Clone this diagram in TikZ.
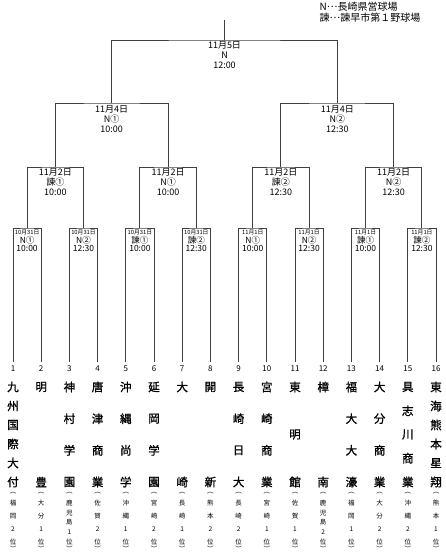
\documentclass[tikz,border=0pt]{standalone}
\usepackage{fontspec}
\usetikzlibrary{calc}
\setmainfont{Noto Sans CJK JP}
\newfontfamily\jpbold[FakeBold=1.2]{Noto Sans CJK JP}
\newcommand\middots{\raisebox{0.3em}{…}}
\newcommand\teamcol[5]{% #1 index, #2 n names, #3 names, #4 m pref, #5 pref
  \pgfmathsetmacro\tx{13+(#1-1)*28.2}
  \node[num] (num#1) at (\tx,369) {#1};
  \foreach \c [count=\k] in {#3} {
    \pgfmathsetmacro\yy{387+95*(\k-1)/(#2-1)}
    \node[tname] (t#1-\k) at (\tx,\yy) {\c};
  }
  \node[pref] (po#1) at (\tx,493) {︵};
  \foreach \c [count=\k] in {#5} {
    \pgfmathsetmacro\yy{503+39*(\k-1)/(#4-1)}
    \node[pref] (p#1-\k) at (\tx,\yy) {\c};
  }
  \node[pref] (pc#1) at (\tx,549) {︶};
}
\begin{document}
\begin{tikzpicture}[x=1pt,y=-1pt,
  line/.style={draw=black!75, line width=0.9pt},
  lab/.style={font=\fontsize{9}{10}\selectfont, align=center, inner sep=0pt, anchor=north},
  small/.style={font=\fontsize{5.8}{6}\selectfont, inner sep=0pt},
  mid/.style={font=\fontsize{8.5}{8.5}\selectfont, inner sep=0pt},
  num/.style={font=\fontsize{8}{9}\selectfont, inner sep=0pt},
  tname/.style={font=\fontsize{11.5}{12}\selectfont\jpbold, inner sep=0pt},
  pref/.style={font=\fontsize{6.5}{7}\selectfont, inner sep=0pt},
  legend/.style={font=\fontsize{10}{10}\selectfont, inner sep=0pt, anchor=west}]
\useasboundingbox (0,0) rectangle (446,559);
% coordinates of the bracket
\foreach \i in {1,...,16} \coordinate (L\i) at ({13+(\i-1)*28.2},362);
\foreach \j in {1,...,8} \coordinate (D\j) at ({13+(2*\j-1.5)*28.2},228);
\foreach \k in {1,...,4} \coordinate (C\k) at ({13+(4*\k-2.5)*28.2},167);
\foreach \m in {1,2} \coordinate (B\m) at ({13+(8*\m-4.5)*28.2},103);
\coordinate (A) at (224.5,40);
\coordinate (R) at (224.5,20);
% bracket lines
\foreach \j in {1,...,8} {
  \pgfmathtruncatemacro\a{2*\j-1}\pgfmathtruncatemacro\b{2*\j}
  \draw[line] (L\a) |- (D\j) -| (L\b);
}
\foreach \k in {1,...,4} {
  \pgfmathtruncatemacro\a{2*\k-1}\pgfmathtruncatemacro\b{2*\k}
  \draw[line] (D\a) |- (C\k) -| (D\b);
}
\foreach \m in {1,2} {
  \pgfmathtruncatemacro\a{2*\m-1}\pgfmathtruncatemacro\b{2*\m}
  \draw[line] (C\a) |- (B\m) -| (C\b);
}
\draw[line] (B1) |- (A) -| (B2);
\draw[line] (R) -- (A);
% legend
\node[legend] (leg1) at (319.5,7) {N\middots 長崎県営球場};
\node[legend] (leg2) at (319.5,17.5) {諫\middots 諫早市第１野球場};
% match labels
\node[lab] (lA) at (224.5,41) {11月5日\\N\\12:00};
\node[lab] (lB1) at ($(B1)+(0,2)$) {11月4日\\N①\\10:00};
\node[lab] (lB2) at ($(B2)+(0,2)$) {11月4日\\N②\\12:30};
\node[lab] (lC1) at ($(C1)+(0,1.5)$) {11月2日\\諫①\\10:00};
\node[lab] (lC2) at ($(C2)+(0,1.5)$) {11月2日\\N①\\10:00};
\node[lab] (lC3) at ($(C3)+(0,1.5)$) {11月2日\\諫②\\12:30};
\node[lab] (lC4) at ($(C4)+(0,1.5)$) {11月2日\\N②\\12:30};
\foreach \j/\d/\p/\t in {1/10月31日/N①/10:00, 2/10月31日/N②/12:30, 3/10月31日/諫①/10:00, 4/10月31日/諫②/12:30,
                         5/11月1日/N①/10:00, 6/11月1日/N②/12:30, 7/11月1日/諫①/10:00, 8/11月1日/諫②/12:30} {
  \node[small] (dd\j) at ($(D\j)+(0,4.5)$) {\d};
  \node[mid] (dp\j) at ($(D\j)+(0,12.5)$) {\p};
  \node[mid] (dt\j) at ($(D\j)+(0,20.5)$) {\t};
}
% teams
\teamcol{1}{6}{九,州,国,際,大,付}{4}{福,岡,2,位}
\teamcol{2}{2}{明,豊}{4}{大,分,1,位}
\teamcol{3}{4}{神,村,学,園}{5}{鹿,児,島,1,位}
\teamcol{4}{4}{唐,津,商,業}{4}{佐,賀,2,位}
\teamcol{5}{4}{沖,縄,尚,学}{4}{沖,縄,1,位}
\teamcol{6}{4}{延,岡,学,園}{4}{宮,崎,2,位}
\teamcol{7}{2}{大,崎}{4}{長,崎,1,位}
\teamcol{8}{2}{開,新}{4}{熊,本,2,位}
\teamcol{9}{4}{長,崎,日,大}{4}{長,崎,2,位}
\teamcol{10}{4}{宮,崎,商,業}{4}{宮,崎,1,位}
\teamcol{11}{3}{東,明,館}{4}{佐,賀,1,位}
\teamcol{12}{2}{樟,南}{5}{鹿,児,島,2,位}
\teamcol{13}{4}{福,大,大,濠}{4}{福,岡,1,位}
\teamcol{14}{4}{大,分,商,業}{4}{大,分,2,位}
\teamcol{15}{5}{具,志,川,商,業}{4}{沖,縄,2,位}
\teamcol{16}{6}{東,海,熊,本,星,翔}{4}{熊,本,1,位}
\end{tikzpicture}
\end{document}
